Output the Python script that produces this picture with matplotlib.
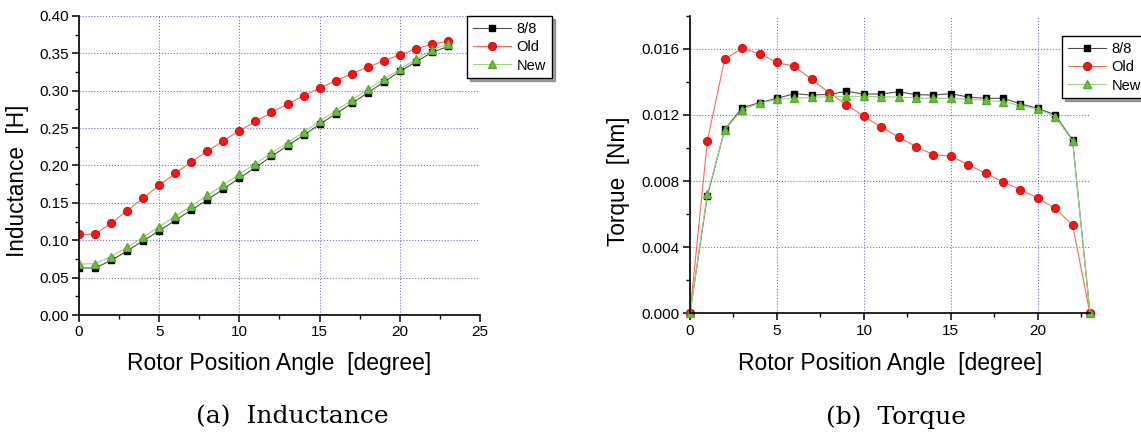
import matplotlib
matplotlib.use('Agg')
import matplotlib.pyplot as plt
from matplotlib.ticker import MultipleLocator, FormatStrFormatter

plt.rcParams['font.family'] = ['Liberation Sans', 'DejaVu Sans']

angle = list(range(24))

# inductance [H]
ind_88 = [0.0628, 0.0628, 0.0730, 0.0855, 0.0993, 0.1127, 0.1265, 0.1403, 0.1541, 0.1684,
          0.1831, 0.1973, 0.2120, 0.2263, 0.2405, 0.2548, 0.2690, 0.2828, 0.2971, 0.3113,
          0.3256, 0.3385, 0.3510, 0.3590]
ind_old = [0.1078, 0.1080, 0.1225, 0.1394, 0.1563, 0.1733, 0.1893, 0.2044, 0.2191, 0.2329,
           0.2463, 0.2588, 0.2708, 0.2819, 0.2931, 0.3033, 0.3131, 0.3225, 0.3314, 0.3398,
           0.3479, 0.3554, 0.3621, 0.3661]
ind_new = [0.0681, 0.0686, 0.0780, 0.0904, 0.1042, 0.1180, 0.1323, 0.1456, 0.1599, 0.1737,
           0.1884, 0.2022, 0.2165, 0.2303, 0.2445, 0.2588, 0.2730, 0.2873, 0.3015, 0.3153,
           0.3287, 0.3416, 0.3545, 0.3621]

# torque [Nm]
tq_88 = [0.0, 0.00711, 0.01112, 0.01243, 0.01274, 0.01300, 0.01328, 0.01320, 0.01324, 0.01342,
         0.01326, 0.01326, 0.01340, 0.01322, 0.01320, 0.01328, 0.01308, 0.01300, 0.01300, 0.01267,
         0.01239, 0.01201, 0.01046, 0.0]
tq_old = [0.0, 0.01044, 0.01537, 0.01602, 0.01570, 0.01517, 0.01493, 0.01415, 0.01334, 0.01261,
          0.01191, 0.01126, 0.01066, 0.01008, 0.00959, 0.00951, 0.00899, 0.00846, 0.00796, 0.00748,
          0.00697, 0.00635, 0.00534, 0.0]
tq_new = [0.0, 0.00723, 0.01110, 0.01229, 0.01270, 0.01294, 0.01300, 0.01306, 0.01310, 0.01312,
          0.01312, 0.01310, 0.01308, 0.01302, 0.01300, 0.01300, 0.01294, 0.01288, 0.01280, 0.01257,
          0.01235, 0.01189, 0.01042, 0.0]

labels = ['8/8', 'Old', 'New']

styles = [
    dict(color='#505050', marker='s', mfc='black', mec='black', ms=4.6),
    dict(color='#ff6a55', marker='o', mfc='#f01818', mec='#e01010', ms=5.6),
    dict(color='#9ad67a', marker='^', mfc='#6cbf3c', mec='#5aa830', ms=6.0),
]

fig = plt.figure(figsize=(11.41, 4.33), dpi=100)
ax1 = fig.add_axes([0.0692, 0.2725, 0.3515, 0.691])
ax2 = fig.add_axes([0.6047, 0.2760, 0.3506, 0.688])


def style_axes(ax):
    for side in ['top', 'right']:
        ax.spines[side].set_visible(False)
    for side in ['left', 'bottom']:
        ax.spines[side].set_linewidth(1.2)
    ax.tick_params(which='major', direction='out', length=5, width=1.1, labelsize=11, pad=2.5)
    ax.tick_params(which='minor', direction='out', length=3, width=1.0)
    ax.grid(True, which='major', color='#7070e0', linestyle=':', linewidth=0.8)
    ax.set_axisbelow(True)


for ys, lab, st in zip([ind_88, ind_old, ind_new], labels, styles):
    ax1.plot(angle, ys, lw=0.8, label=lab, **st)
ax1.set_xlim(0, 25)
ax1.set_ylim(0, 0.40)
ax1.xaxis.set_major_locator(MultipleLocator(5))
ax1.xaxis.set_minor_locator(MultipleLocator(2.5))
ax1.yaxis.set_major_locator(MultipleLocator(0.05))
ax1.yaxis.set_minor_locator(MultipleLocator(0.025))
ax1.yaxis.set_major_formatter(FormatStrFormatter('%.2f'))
style_axes(ax1)
ax1.set_xlabel('Rotor Position Angle  [degree]', fontsize=16.5)
ax1.set_ylabel('Inductance  [H]', fontsize=16.3)
ax1.xaxis.set_label_coords(0.5, -0.124)
ax1.yaxis.set_label_coords(-0.125, 0.448)

for ys, lab, st in zip([tq_88, tq_old, tq_new], labels, styles):
    ax2.plot(angle, ys, lw=0.8, label=lab, clip_on=False, **st)
ax2.set_xlim(0, 23)
ax2.set_ylim(0, 0.018)
ax2.xaxis.set_major_locator(MultipleLocator(5))
ax2.xaxis.set_minor_locator(MultipleLocator(2.5))
ax2.yaxis.set_major_locator(MultipleLocator(0.004))
ax2.yaxis.set_minor_locator(MultipleLocator(0.002))
ax2.yaxis.set_major_formatter(FormatStrFormatter('%.3f'))
style_axes(ax2)
ax2.set_xlabel('Rotor Position Angle  [degree]', fontsize=16.5)
ax2.set_ylabel('Torque  [Nm]', fontsize=16.3)
ax2.xaxis.set_label_coords(0.5, -0.129)
ax2.yaxis.set_label_coords(-0.15, 0.445)

leg_kw = dict(loc='upper left', fontsize=10.5, frameon=True, fancybox=False, shadow=True,
              edgecolor='black', framealpha=1, borderpad=0.4, labelspacing=0.3,
              handlelength=2.6, handletextpad=0.4, borderaxespad=0)
leg1 = ax1.legend(bbox_to_anchor=(467 / 1141, 1 - 16 / 433), bbox_transform=fig.transFigure, **leg_kw)
leg2 = ax2.legend(bbox_to_anchor=(1062 / 1141, 1 - 36 / 433), bbox_transform=fig.transFigure, **leg_kw)
for leg in (leg1, leg2):
    leg.get_frame().set_linewidth(1.0)

fig.text(292 / 1141, 1 - 417 / 433, '(a)  Inductance', family='DejaVu Serif', fontsize=18,
         ha='center', va='center')
fig.text(896 / 1141, 1 - 417 / 433, '(b)  Torque', family='DejaVu Serif', fontsize=18,
         ha='center', va='center')

fig.savefig('out.png', dpi=100)
